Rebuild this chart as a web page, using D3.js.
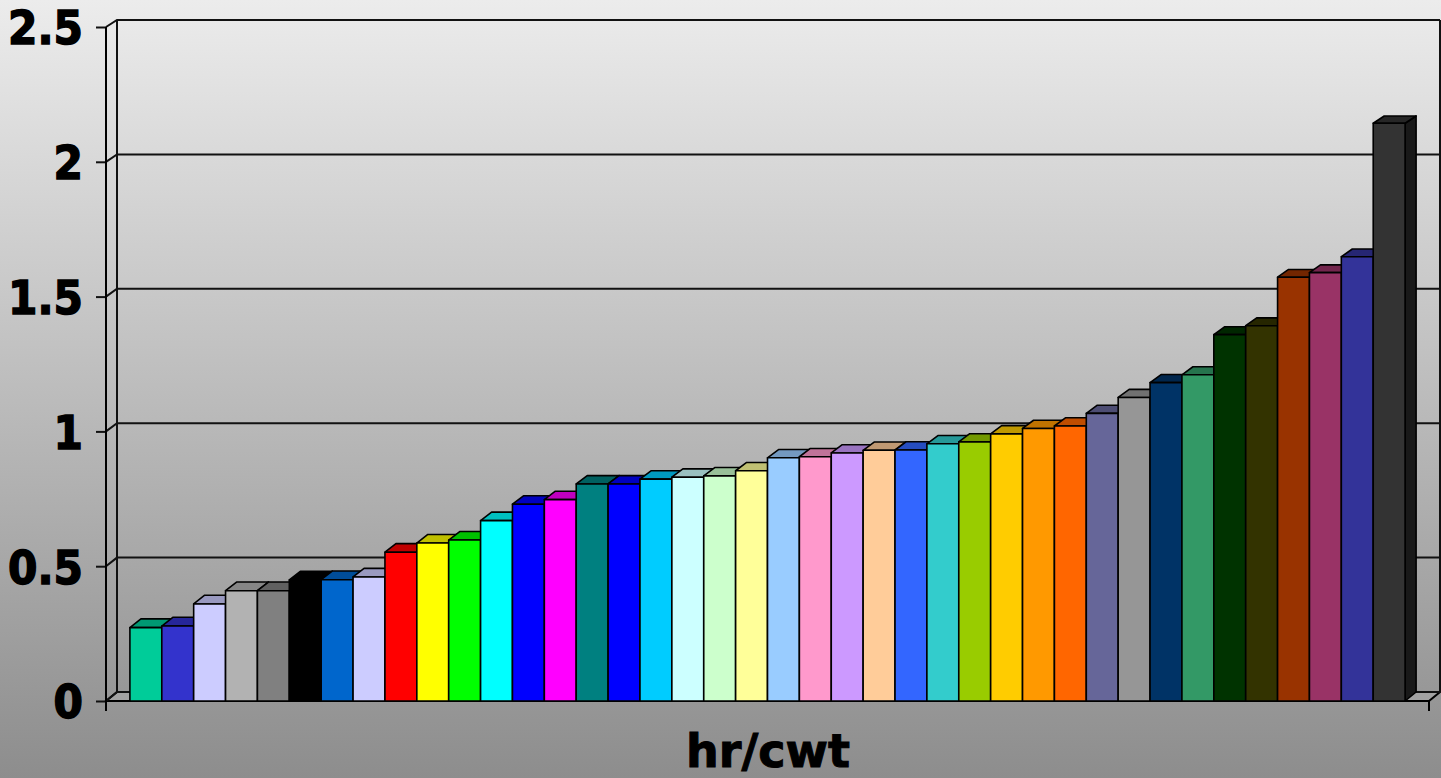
<!DOCTYPE html>
<html>
<head>
<meta charset="utf-8">
<script src="https://cdn.jsdelivr.net/npm/d3@7"></script>
<style>
  html, body { margin: 0; padding: 0; }
  body { width: 1441px; height: 778px; overflow: hidden; }
</style>
</head>
<body>
<div id="graph"></div>
<script>
// data, sorted low to high
var categories = d3.range(1, 41).map(function(d) { return "c" + d; });
var values = [0.272, 0.278, 0.360, 0.409, 0.409, 0.449, 0.450, 0.460, 0.552, 0.586,
              0.597, 0.669, 0.730, 0.747, 0.805, 0.805, 0.823, 0.830, 0.835, 0.854,
              0.902, 0.906, 0.920, 0.930, 0.931, 0.954, 0.961, 0.991, 1.011, 1.020,
              1.067, 1.126, 1.181, 1.210, 1.359, 1.392, 1.572, 1.589, 1.648, 2.143];
var colors = ["#00CC99", "#3333CC", "#CCCCFF", "#B2B2B2", "#808080", "#000000", "#0066CC", "#CCCCFF", "#FF0000", "#FFFF00",
              "#00FF00", "#00FFFF", "#0000FF", "#FF00FF", "#008080", "#0000FF", "#00CCFF", "#CCFFFF", "#CCFFCC", "#FFFF99",
              "#99CCFF", "#FF99CC", "#CC99FF", "#FFCC99", "#3366FF", "#33CCCC", "#99CC00", "#FFCC00", "#FF9900", "#FF6600",
              "#666699", "#969696", "#003366", "#339966", "#003300", "#333300", "#993300", "#993366", "#333399", "#333333"];
var yTicks = [0, 0.5, 1, 1.5, 2, 2.5];
var yLabels = ["0", "0.5", "1", "1.5", "2", "2.5"];
var axisTitle = "hr/cwt";

var width = 1441, height = 778;
var floorY = 701;          // front edge of the floor
var depth = {x: 11, y: -9}; // 3d offset front -> back
var left = 106, right = 1429;

var svg = d3.select("#graph").append("svg")
    .attr("width", width)
    .attr("height", height);

// page background gradient
var defs = svg.append("defs");
var grad = defs.append("linearGradient")
    .attr("id", "bg")
    .attr("x1", 0).attr("y1", 0).attr("x2", 0).attr("y2", 1);
grad.append("stop").attr("offset", "0%").attr("stop-color", "#ECECEC");
grad.append("stop").attr("offset", "100%").attr("stop-color", "#8D8D8D");

svg.append("rect")
    .attr("width", width)
    .attr("height", height)
    .attr("fill", "url(#bg)");

// scales: front plane and back wall
var yFront = d3.scaleLinear().domain([0, 2.5]).range([floorY, 27]);
var yBack = d3.scaleLinear().domain([0, 2.5]).range([floorY + depth.y, 20]);
var x = d3.scaleBand()
    .domain(categories)
    .range([left, right])
    .paddingInner(0)
    .paddingOuter(0.75);

var backLeft = left + depth.x, backRight = right + depth.x;

// floor
svg.append("path")
    .attr("d", "M" + left + "," + floorY +
               "L" + backLeft + "," + (floorY + depth.y) +
               "L" + backRight + "," + (floorY + depth.y) +
               "L" + right + "," + floorY + "Z")
    .attr("fill", "#A2A2A2")
    .attr("stroke", "#000")
    .attr("stroke-width", 2);

// gridlines (across the side wall and the back wall)
var grid = svg.append("g")
    .attr("fill", "none")
    .attr("stroke", "#111")
    .attr("stroke-width", 2);

grid.selectAll("path")
    .data(yTicks)
    .enter().append("path")
    .attr("d", function(d) {
      return "M" + left + "," + yFront(d) +
             "L" + backLeft + "," + yBack(d) +
             "L" + backRight + "," + yBack(d);
    });

// wall edges
grid.append("line")
    .attr("x1", backLeft).attr("x2", backLeft)
    .attr("y1", yBack(2.5)).attr("y2", yBack(0));
grid.append("line")
    .attr("x1", backRight).attr("x2", backRight)
    .attr("y1", yBack(2.5)).attr("y2", yBack(0));

// bars, left to right so each front covers the previous side
var bars = svg.append("g")
    .attr("stroke", "#000")
    .attr("stroke-width", 1.6)
    .attr("stroke-linejoin", "round");

values.forEach(function(v, i) {
  var x0 = x(categories[i]);
  var w = x.bandwidth();
  var yt = yFront(v);
  var dy = yBack(v) - yFront(v);
  var c = d3.color(colors[i]);
  var g = bars.append("g");

  // side face
  g.append("path")
    .attr("d", "M" + (x0 + w) + "," + yt +
               "L" + (x0 + w + depth.x) + "," + (yt + dy) +
               "L" + (x0 + w + depth.x) + "," + (floorY + depth.y) +
               "L" + (x0 + w) + "," + floorY + "Z")
    .attr("fill", c.darker(2));

  // top face
  g.append("path")
    .attr("d", "M" + x0 + "," + yt +
               "L" + (x0 + depth.x) + "," + (yt + dy) +
               "L" + (x0 + w + depth.x) + "," + (yt + dy) +
               "L" + (x0 + w) + "," + yt + "Z")
    .attr("fill", c.darker(0.8));

  // front face
  g.append("rect")
    .attr("x", x0)
    .attr("y", yt)
    .attr("width", w)
    .attr("height", floorY - yt)
    .attr("fill", colors[i]);
});

// value axis on the front plane
var yAxis = d3.axisLeft(yFront)
    .tickValues(yTicks)
    .tickFormat(function(d, i) { return yLabels[i]; })
    .tickSize(10)
    .tickSizeOuter(0)
    .tickPadding(13);

var ax = svg.append("g")
    .attr("transform", "translate(" + left + ",0)")
    .call(yAxis);

ax.select(".domain").remove();
ax.selectAll(".tick line")
    .attr("stroke", "#111")
    .attr("stroke-width", 2);
ax.selectAll(".tick text")
    .attr("fill", "#000")
    .attr("stroke", "#000")
    .attr("stroke-width", 1.4)
    .attr("dy", "0.36em")
    .style("font-family", "'DejaVu Sans Condensed', 'DejaVu Sans', sans-serif")
    .style("font-weight", "bold")
    .style("font-size", "47px");

// front axis line and end ticks of the category axis
svg.append("line")
    .attr("x1", left).attr("x2", left)
    .attr("y1", yFront(2.5)).attr("y2", floorY + 10)
    .attr("stroke", "#000").attr("stroke-width", 2);
svg.append("line")
    .attr("x1", right).attr("x2", right)
    .attr("y1", floorY).attr("y2", floorY + 10)
    .attr("stroke", "#000").attr("stroke-width", 2);

// axis title
svg.append("text")
    .attr("x", 768)
    .attr("y", 767)
    .attr("text-anchor", "middle")
    .attr("stroke", "#000")
    .attr("stroke-width", 1)
    .style("font-family", "'DejaVu Sans', sans-serif")
    .style("font-weight", "bold")
    .style("font-size", "46px")
    .text(axisTitle);
</script>
</body>
</html>
